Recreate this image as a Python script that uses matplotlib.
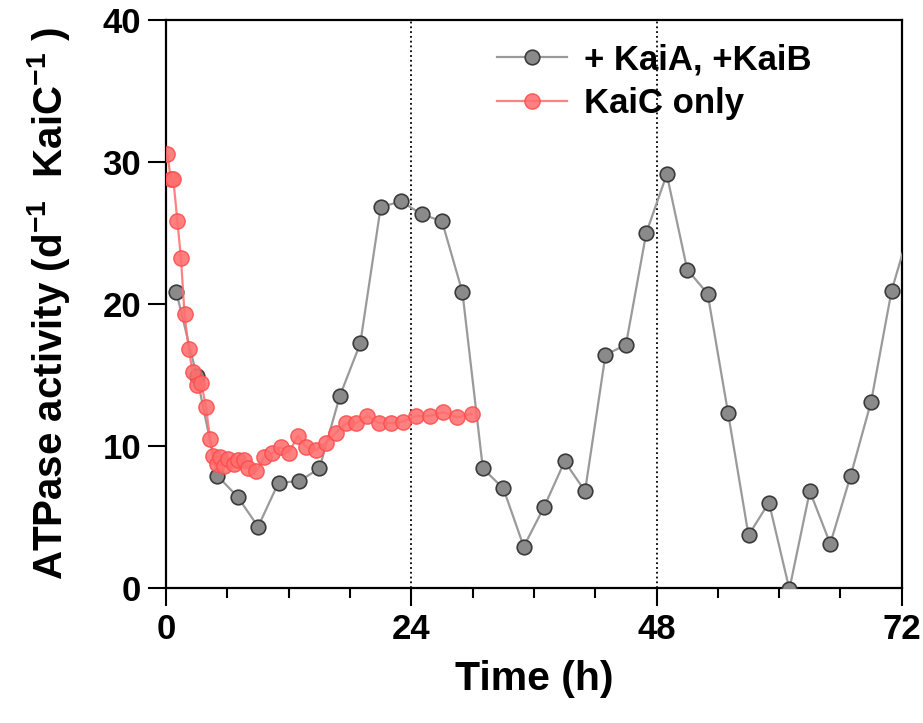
import numpy as np
import matplotlib
matplotlib.use("Agg")
import matplotlib.pyplot as plt
from matplotlib.ticker import MultipleLocator

# data
t_abc = [1, 3, 5, 7, 9, 11, 13, 15, 17, 19, 21, 23, 25, 27, 29, 31, 33, 35, 37, 39,
         41, 43, 45, 47, 49, 51, 53, 55, 57, 59, 61, 63, 65, 67, 69, 71, 73]
atp_abc = [20.8, 14.9, 7.9, 6.4, 4.3, 7.4, 7.5, 8.4, 13.5, 17.2, 26.8, 27.2, 26.3, 25.8, 20.8,
           8.4, 7.0, 2.9, 5.7, 8.9, 6.8, 16.4, 17.1, 25.0, 29.1, 22.4, 20.7, 12.3, 3.7, 6.0,
           -0.1, 6.8, 3.1, 7.9, 13.1, 20.9, 25.8]

t_c = [0.13, 0.45, 0.7, 1.1, 1.45, 1.8, 2.2, 2.6, 3.0, 3.45, 3.9, 4.3, 4.6, 5.0, 5.3, 5.7,
       6.1, 6.6, 7.0, 7.6, 8.0, 8.8, 9.6, 10.4, 11.2, 12.0, 12.9, 13.7, 14.7, 15.6, 16.6,
       17.6, 18.6, 19.7, 20.8, 22.0, 23.2, 24.5, 25.8, 27.1, 28.5, 29.9]
atp_c = [30.5, 28.8, 28.8, 25.8, 23.2, 19.3, 16.8, 15.2, 14.3, 14.4, 12.7, 10.5, 9.3, 8.7,
         9.2, 8.6, 9.1, 8.7, 9.0, 9.0, 8.4, 8.2, 9.2, 9.5, 9.9, 9.5, 10.7, 9.9, 9.7, 10.2,
         10.9, 11.6, 11.6, 12.1, 11.6, 11.6, 11.7, 12.1, 12.1, 12.35, 12.0, 12.25]

plt.rcParams['font.family'] = ['Liberation Sans', 'DejaVu Sans']
plt.rcParams['font.weight'] = 'bold'
plt.rcParams['mathtext.fontset'] = 'custom'
plt.rcParams['mathtext.rm'] = 'Liberation Sans:bold'
plt.rcParams['mathtext.bf'] = 'Liberation Sans:bold'
plt.rcParams['mathtext.default'] = 'rm'

fig = plt.figure(figsize=(9.23, 7.23), dpi=100)
ax = fig.add_axes([0.18, 0.187, 0.797, 0.786])

ax.axvline(24, color='black', ls=':', lw=1.3, zorder=1)
ax.axvline(48, color='black', ls=':', lw=1.3, zorder=1)

ax.plot(t_abc, atp_abc, '-o', color='#9a9a9a', lw=1.6, ms=10.5,
        mfc='#8a8a8a', mec='#3a3a3a', mew=1.2, label='+ KaiA, +KaiB', zorder=3)
ax.plot(t_c, atp_c, '-o', color='#ff7070', lw=1.6, ms=11,
        mfc='#ff6e6e', mec='#ff4a4a', mew=1.0, alpha=0.88, label='KaiC only', zorder=4)

ax.set_xlim(0, 72)
ax.set_ylim(0, 40)
ax.xaxis.set_major_locator(MultipleLocator(24))
ax.xaxis.set_minor_locator(MultipleLocator(6))
ax.yaxis.set_major_locator(MultipleLocator(10))

ax.tick_params(which='major', direction='out', length=13, width=1.5, labelsize=25, pad=5)
ax.tick_params(which='minor', direction='out', length=7, width=1.5)
ax.tick_params(axis='y', which='minor', left=False)
for s in ax.spines.values():
    s.set_linewidth(1.6)

ax.set_xlabel('Time (h)', fontsize=29.5, fontweight='bold', labelpad=10)
ax.set_ylabel('ATPase activity (d$^{-1}$  KaiC$^{-1}$ )', fontsize=29, fontweight='bold')
ax.yaxis.set_label_coords(-0.128, 0.5)

ax.legend(loc='upper left', frameon=False, fontsize=25, handlelength=2.0,
          borderaxespad=0, borderpad=0, labelspacing=0.32, handletextpad=0.5,
          bbox_to_anchor=(0.45, 0.958))

fig.savefig('out.png', dpi=100)
